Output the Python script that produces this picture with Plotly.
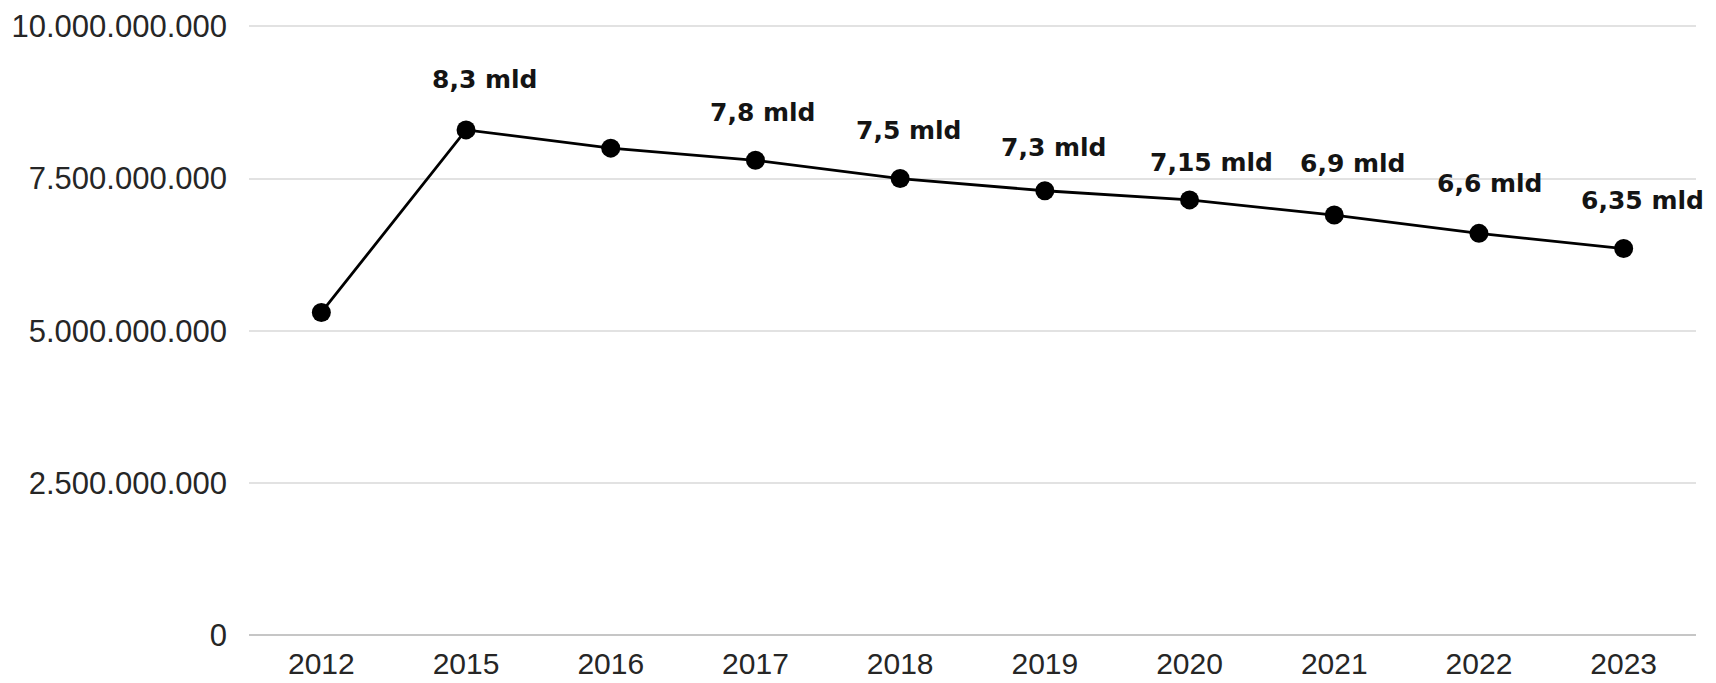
import plotly.graph_objects as go

years = ["2012", "2015", "2016", "2017", "2018", "2019", "2020", "2021", "2022", "2023"]
values = [5.3e9, 8.3e9, 8.0e9, 7.8e9, 7.5e9, 7.3e9, 7.15e9, 6.9e9, 6.6e9, 6.35e9]
labels = ["", "8,3 mld", "", "7,8 mld", "7,5 mld", "7,3 mld", "7,15 mld", "6,9 mld", "6,6 mld", "6,35 mld"]
y_ticks = [0, 2.5e9, 5e9, 7.5e9, 10e9]
y_tick_text = ["0", "2.500.000.000", "5.000.000.000", "7.500.000.000", "10.000.000.000"]

# label offsets in pixels (styling only)
x_shifts = [0, 19, 0, 8, 9, 9, 22, 19, 11, 19]
y_shifts = [0, 50, 0, 48, 48, 43, 37, 52, 50, 48]

fig = go.Figure()
fig.add_trace(go.Scatter(
    x=years, y=values, mode="lines+markers",
    line=dict(color="#000000", width=2.8),
    marker=dict(color="#000000", size=19),
    showlegend=False, hoverinfo="x+y",
))

for i, lab in enumerate(labels):
    if lab:
        fig.add_annotation(x=i, y=values[i], xref="x", yref="y",
                           text=f"<b>{lab}</b>", showarrow=False,
                           xshift=x_shifts[i], yshift=y_shifts[i],
                           font=dict(family="DejaVu Sans, sans-serif", size=25, color="#141414"))

fig.update_layout(
    width=1716, height=683,
    margin=dict(l=241, r=28, t=16, b=56, autoexpand=False),
    paper_bgcolor="white", plot_bgcolor="white",
    font=dict(family="Liberation Sans, Arial, sans-serif", size=31, color="#262626"),
    xaxis=dict(type="category", range=[-0.5, 9.5], showgrid=False, zeroline=False,
               showline=False, ticks="", ticklabelstandoff=8,
               tickfont=dict(size=30, color="#262626")),
    yaxis=dict(range=[0, 10.04e9], tickvals=y_ticks, ticktext=y_tick_text,
               showgrid=True, gridcolor="#e2e2e2", gridwidth=1.5,
               zeroline=True, zerolinecolor="#c6c6c6", zerolinewidth=2,
               showline=False, ticks="", ticklabelstandoff=21,
               tickfont=dict(size=31, color="#262626")),
)

fig.write_html("out.html")
